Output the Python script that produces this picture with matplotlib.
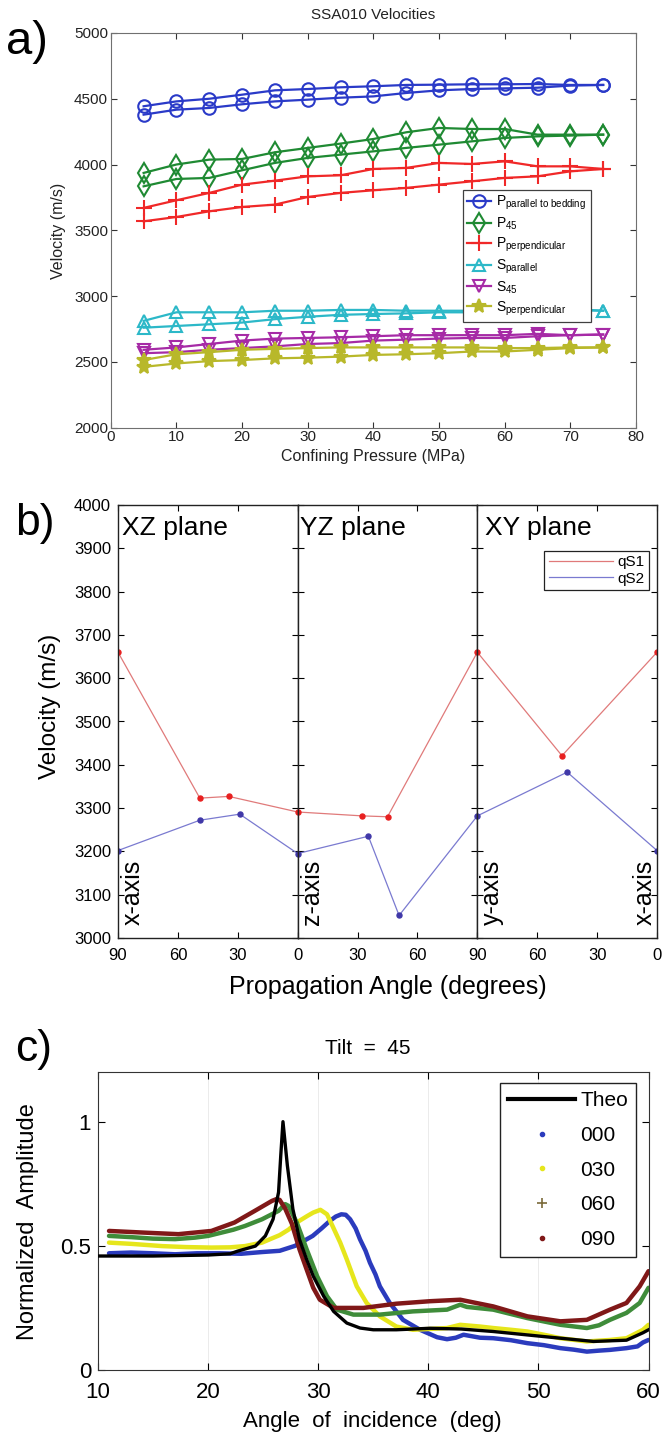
import matplotlib
matplotlib.use('Agg')
import matplotlib.pyplot as plt
from matplotlib.lines import Line2D

plt.rcParams['font.family'] = ['Liberation Sans', 'DejaVu Sans']
plt.rcParams['mathtext.fontset'] = 'custom'
plt.rcParams['mathtext.rm'] = 'Liberation Sans'
plt.rcParams['mathtext.it'] = 'Liberation Sans:italic'
plt.rcParams['mathtext.bf'] = 'Liberation Sans:bold'

# ---------------- Panel a data ----------------
pressure = [5, 10, 15, 20, 25, 30, 35, 40, 45, 50, 55, 60, 65, 70, 75]
p_par_up = [4443, 4480, 4500, 4531, 4564, 4574, 4587, 4595, 4605, 4607, 4610, 4610, 4612, 4605, 4605]
p_par_dn = [4379, 4417, 4430, 4458, 4480, 4493, 4508, 4518, 4544, 4564, 4574, 4579, 4584, 4600, 4605]
p45_up = [3936, 4000, 4037, 4042, 4093, 4126, 4159, 4194, 4245, 4278, 4270, 4270, 4227, 4227, 4227]
p45_dn = [3834, 3890, 3898, 3956, 4012, 4050, 4075, 4100, 4126, 4151, 4176, 4202, 4214, 4220, 4227]
p_perp_up = [3670, 3728, 3784, 3847, 3877, 3910, 3918, 3966, 3974, 4012, 4004, 4024, 3986, 3986, 3966]
p_perp_dn = [3568, 3601, 3644, 3677, 3695, 3753, 3784, 3804, 3822, 3847, 3872, 3898, 3910, 3948, 3966]
s_par_up = [2811, 2876, 2876, 2876, 2888, 2888, 2894, 2894, 2888, 2888, 2888, 2901, 2901, 2901, 2888]
s_par_dn = [2759, 2772, 2785, 2798, 2824, 2842, 2857, 2863, 2868, 2876, 2876, 2888, 2888, 2894, 2888]
s45_up = [2591, 2609, 2635, 2661, 2676, 2681, 2686, 2694, 2702, 2702, 2702, 2702, 2712, 2702, 2707]
s45_dn = [2565, 2573, 2591, 2604, 2617, 2635, 2642, 2661, 2668, 2676, 2681, 2681, 2694, 2702, 2707]
s_perp_up = [2513, 2557, 2573, 2591, 2598, 2604, 2609, 2609, 2609, 2609, 2609, 2604, 2604, 2609, 2609]
s_perp_dn = [2461, 2487, 2505, 2513, 2526, 2531, 2539, 2552, 2557, 2565, 2578, 2578, 2591, 2604, 2609]
a_labels = [r'P$_{\mathrm{parallel\ to\ bedding}}$', r'P$_{45}$', r'P$_{\mathrm{perpendicular}}$',
            r'S$_{\mathrm{parallel}}$', r'S$_{45}$', r'S$_{\mathrm{perpendicular}}$']
a_xticks = [0, 10, 20, 30, 40, 50, 60, 70, 80]
a_yticks = [2000, 2500, 3000, 3500, 4000, 4500, 5000]

# ---------------- Panel b data ----------------
xz_qs1_ang = [90, 49, 34.5, 0]
xz_qs1_vel = [3660, 3323, 3327, 3291]
xz_qs2_ang = [90, 49, 29, 0]
xz_qs2_vel = [3202, 3272, 3286, 3195]
yz_qs1_ang = [0, 32.4, 45, 90]
yz_qs1_vel = [3291, 3282, 3280, 3660]
yz_qs2_ang = [0, 35.4, 50.8, 90]
yz_qs2_vel = [3195, 3235, 3052, 3282]
xy_qs1_ang = [90, 47.6, 0]
xy_qs1_vel = [3660, 3421, 3660]
xy_qs2_ang = [90, 45, 0]
xy_qs2_vel = [3282, 3383, 3202]
plane_names = ['XZ plane', 'YZ plane', 'XY plane']
b_ticks = [0, 30, 60, 90]
b_ticklabels = [['0', '30', '60', '90'], ['', '30', '60', '90'], ['0', '30', '60', '']]
b_yticks = list(range(3000, 4001, 100))

# ---------------- Panel c data ----------------
theo_ang = [10, 15, 20, 22, 22.7, 24.3, 25.2, 25.9, 26.4, 26.6, 26.8, 27.2, 27.7, 28.3, 28.95, 29.55,
            30.5, 31.4, 32.6, 33.8, 35, 37.1, 40.15, 43, 45.9, 50.4, 55, 58, 59.5, 60]
theo_amp = [0.459, 0.459, 0.463, 0.468, 0.479, 0.499, 0.54, 0.607, 0.716, 0.864, 1.0, 0.823, 0.648,
            0.526, 0.445, 0.378, 0.297, 0.236, 0.189, 0.169, 0.162, 0.162, 0.168, 0.165, 0.155,
            0.135, 0.115, 0.12, 0.15, 0.162]
a000_ang = [11, 13, 15, 17, 19, 21, 23, 24.9, 26.5, 27.9, 28.5, 29.5, 30.3, 31.05, 31.6, 32.1, 32.5,
            32.9, 33.4, 33.8, 34.3, 34.7, 35.2, 35.6, 36.5, 37.7, 39.25, 40.8, 41.7, 42.5, 43.2, 44.7,
            45.9, 47.5, 49, 50.5, 52, 53.2, 54.4, 55.5, 56.5, 58, 59, 59.5, 60]
a000_amp = [0.470, 0.473, 0.470, 0.466, 0.470, 0.470, 0.468, 0.475, 0.480, 0.500, 0.515, 0.540, 0.570,
            0.600, 0.618, 0.627, 0.625, 0.607, 0.570, 0.526, 0.480, 0.432, 0.385, 0.337, 0.270, 0.202,
            0.162, 0.132, 0.124, 0.130, 0.142, 0.130, 0.128, 0.120, 0.108, 0.100, 0.088, 0.082, 0.074,
            0.078, 0.081, 0.088, 0.095, 0.111, 0.121]
a030_ang = [11, 13, 15.8, 18, 20.3, 22, 23.35, 24.9, 25.8, 26.5, 27.3, 28.05, 29, 29.55, 30.2, 30.8,
            31.3, 32, 32.6, 33.5, 34.4, 35.6, 37.1, 38.6, 40, 41.7, 42.9, 44.7, 45.9, 47.5, 49, 50.5,
            52, 54.4, 56.5, 58, 59.5, 60]
a030_amp = [0.513, 0.508, 0.499, 0.495, 0.493, 0.494, 0.499, 0.513, 0.530, 0.543, 0.565, 0.594, 0.620,
            0.634, 0.645, 0.627, 0.580, 0.513, 0.445, 0.337, 0.270, 0.216, 0.175, 0.162, 0.165, 0.169,
            0.182, 0.175, 0.169, 0.162, 0.155, 0.142, 0.128, 0.115, 0.121, 0.128, 0.162, 0.182]
a060_ang = [11, 13, 15, 17, 18.8, 20, 21.2, 22.3, 23.35, 24.9, 26.4, 27.0, 27.3, 28.05, 28.95, 29.9,
            30.8, 31.7, 33.2, 35.6, 38.6, 41.7, 42.9, 43.5, 45.9, 49, 52, 54.4, 55.5, 56.5, 58, 59.2, 60]
a060_amp = [0.540, 0.535, 0.529, 0.527, 0.533, 0.540, 0.553, 0.565, 0.580, 0.607, 0.641, 0.668, 0.661,
            0.594, 0.486, 0.378, 0.297, 0.243, 0.223, 0.223, 0.236, 0.243, 0.263, 0.254, 0.243, 0.209,
            0.182, 0.169, 0.180, 0.202, 0.230, 0.270, 0.331]
a090_ang = [11, 14.3, 17.3, 20.3, 22.4, 24.25, 25.8, 26.2, 26.5, 27.0, 27.6, 28.3, 28.95, 29.55, 30.15,
            31.4, 34.1, 37.1, 40.15, 42.9, 45.9, 49, 52, 54.4, 56.5, 58, 59.2, 60]
a090_amp = [0.560, 0.553, 0.547, 0.560, 0.594, 0.641, 0.681, 0.688, 0.685, 0.650, 0.590, 0.486, 0.405,
            0.331, 0.283, 0.250, 0.250, 0.267, 0.277, 0.283, 0.256, 0.216, 0.196, 0.202, 0.243, 0.270,
            0.337, 0.398]
c_labels = ['Theo', '000', '030', '060', '090']
c_xticks = [10, 20, 30, 40, 50, 60]
c_yticks = [0, 0.5, 1]
c_yticklabels = ['0', '0.5', '1']

# ---------------- figure ----------------
W, H = 662, 1435
fig = plt.figure(figsize=(W / 100, H / 100), dpi=100)


def box(l, t, r, b):
    return [l / W, 1 - b / H, (r - l) / W, (b - t) / H]


def ftext(x, y, s, **kw):
    fig.text(x / W, 1 - y / H, s, **kw)


# ---------- Panel a ----------
axA = fig.add_axes(box(110.8, 33, 636, 427.5))
a_series = [
    (p_par_up, p_par_dn, 'o', '#2a3ac8', 9, True),
    (p45_up, p45_dn, 'd', '#1f8a33', 10, True),
    (p_perp_up, p_perp_dn, '+', '#f02828', 11, False),
    (s_par_up, s_par_dn, '^', '#2cb8c8', 9, True),
    (s45_up, s45_dn, 'v', '#a62aa6', 9, True),
    (s_perp_up, s_perp_dn, '*', '#b8b82a', 10, False),
]
for (up, dn, mk, c, ms, hollow), lab in zip(a_series, a_labels):
    kw = dict(color=c, marker=mk, ms=ms, mew=1.5, lw=1.6)
    if hollow:
        kw['mfc'] = 'none'
    axA.plot(pressure, up, label=lab, **kw)
    axA.plot(pressure, dn, **kw)
axA.set_xlim(0, 80)
axA.set_ylim(2000, 5000)
axA.set_xticks(a_xticks)
axA.set_yticks(a_yticks)
axA.tick_params(direction='in', top=True, right=True, length=4, labelsize=11, pad=2,
                colors='#333333', labelcolor='#222222')
for sp in axA.spines.values():
    sp.set_color('#707070')
leg = axA.legend(loc='upper left', bbox_to_anchor=((463 - 110.8) / 525.2, (427.5 - 190) / 394.5),
                 borderaxespad=0, fontsize=10, handlelength=1.7, handletextpad=0.4,
                 labelspacing=0.25, borderpad=0.3, fancybox=False, framealpha=1, edgecolor='#404040')
leg.get_frame().set_linewidth(0.9)
ftext(373, 15, 'SSA010 Velocities', fontsize=11, ha='center', va='center', color='#222222')
ftext(373, 456, 'Confining Pressure (MPa)', fontsize=11.5, ha='center', va='center', color='#222222')
ftext(59, 231, 'Velocity (m/s)', fontsize=11.5, ha='center', va='center', rotation=90, color='#222222')
ftext(6, 42, 'a)', fontsize=34, ha='left', va='center')

# ---------- Panel b ----------
bw = (657 - 118) / 3
axes_b = [fig.add_axes(box(118 + i * bw, 505, 118 + (i + 1) * bw, 938)) for i in range(3)]
b_data = [
    (xz_qs1_ang, xz_qs1_vel, xz_qs2_ang, xz_qs2_vel, (90, 0)),
    (yz_qs1_ang, yz_qs1_vel, yz_qs2_ang, yz_qs2_vel, (0, 90)),
    (xy_qs1_ang, xy_qs1_vel, xy_qs2_ang, xy_qs2_vel, (90, 0)),
]
red_line, red_mk = '#e07a7a', '#e82020'
blue_line, blue_mk = '#7a7ad0', '#4038a8'
for i, (ax, (a1, v1, a2, v2, xl)) in enumerate(zip(axes_b, b_data)):
    ax.plot(a1, v1, color=red_line, lw=0.9, label='qS1')
    ax.plot(a2, v2, color=blue_line, lw=0.9, label='qS2')
    ax.plot(a1, v1, ls='none', marker='o', ms=3.6, color=red_mk)
    ax.plot(a2, v2, ls='none', marker='o', ms=3.6, color=blue_mk)
    ax.set_xlim(*xl)
    ax.set_ylim(3000, 4000)
    ax.set_xticks(b_ticks)
    ax.set_xticklabels(b_ticklabels[i])
    ax.set_yticks(b_yticks)
    ax.tick_params(direction='in', top=True, right=True, length=4, labelsize=12, pad=7)
    ax.tick_params(axis='y', pad=5)
    if i > 0:
        ax.tick_params(axis='y', labelleft=False)
    for sp in ax.spines.values():
        sp.set_color('#222222')
        sp.set_linewidth(1.0)
    ax.text([0.022, 0.011, 0.043][i], 0.931, plane_names[i], transform=ax.transAxes,
            fontsize=19, ha='left', va='baseline')

axes_b[0].text(0.017, 0.03, 'x-axis', transform=axes_b[0].transAxes, rotation=90,
               fontsize=18, ha='left', va='bottom')
axes_b[1].text(0.012, 0.03, 'z-axis', transform=axes_b[1].transAxes, rotation=90,
               fontsize=18, ha='left', va='bottom')
axes_b[2].text(0.012, 0.03, 'y-axis', transform=axes_b[2].transAxes, rotation=90,
               fontsize=18, ha='left', va='bottom')
axes_b[2].text(0.996, 0.03, 'x-axis', transform=axes_b[2].transAxes, rotation=90,
               fontsize=18, ha='right', va='bottom')
legb = axes_b[2].legend(loc='upper left', bbox_to_anchor=(0.371, 0.894), borderaxespad=0,
                        fontsize=11, handlelength=4.2, handletextpad=0.3, labelspacing=0.15,
                        borderpad=0.3, fancybox=False, framealpha=1, edgecolor='#222222')
legb.get_frame().set_linewidth(0.9)
ftext(388, 987, 'Propagation Angle (degrees)', fontsize=18, ha='center', va='center')
ftext(50, 706, 'Velocity (m/s)', fontsize=17.5, ha='center', va='center', rotation=90)
ftext(15, 523, 'b)', fontsize=32, ha='left', va='center')

# ---------- Panel c ----------
axC = fig.add_axes(box(98, 1072, 648.5, 1370))
c_colors = ['#2b3bbd', '#e6e61c', '#3f8c3a', '#801818']
for ang, amp, col in zip([a000_ang, a030_ang, a060_ang, a090_ang],
                         [a000_amp, a030_amp, a060_amp, a090_amp], c_colors):
    axC.plot(ang, amp, color=col, lw=3.2, solid_joinstyle='round', solid_capstyle='round')
axC.plot(theo_ang, theo_amp, color='black', lw=2.4, zorder=3)
axC.set_xlim(10, 60)
axC.set_ylim(0, 1.2)
axC.set_xticks(c_xticks)
axC.set_yticks(c_yticks)
axC.set_yticklabels(c_yticklabels)
axC.grid(True, axis='x', color='#ebebeb', lw=0.7)
axC.tick_params(direction='in', top=True, right=True, length=5, labelsize=16)
axC.tick_params(axis='x', pad=9)
axC.tick_params(axis='y', pad=5)
for sp in axC.spines.values():
    sp.set_color('#333333')
c_handles = [
    Line2D([], [], color='black', lw=3),
    Line2D([], [], color=c_colors[0], ls='none', marker='.', ms=6),
    Line2D([], [], color=c_colors[1], ls='none', marker='.', ms=6),
    Line2D([], [], color='#7a6a3a', ls='none', marker='+', ms=7, mew=1.2),
    Line2D([], [], color=c_colors[3], ls='none', marker='.', ms=6),
]
legc = axC.legend(c_handles, c_labels, loc='upper left', bbox_to_anchor=(0.730, 0.963),
                  borderaxespad=0, fontsize=15, handlelength=3.2, handletextpad=0.25,
                  labelspacing=0.75, borderpad=0.4, fancybox=False, framealpha=1,
                  edgecolor='#222222')
legc.get_frame().set_linewidth(1.0)
ftext(368, 1048, 'Tilt  =  45', fontsize=15, ha='center', va='center')
ftext(372, 1421, 'Angle  of  incidence  (deg)', fontsize=16, ha='center', va='center')
ftext(28, 1222, 'Normalized  Amplitude', fontsize=17, ha='center', va='center', rotation=90)
ftext(15, 1049, 'c)', fontsize=32, ha='left', va='center')

fig.savefig('out.png', dpi=100)
